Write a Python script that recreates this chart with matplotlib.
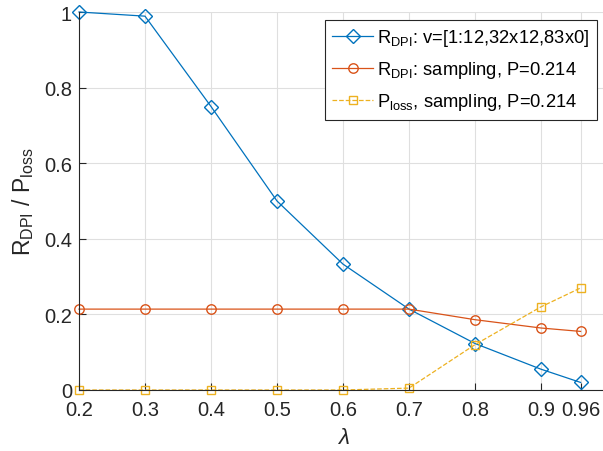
import matplotlib
matplotlib.use('Agg')
import matplotlib.pyplot as plt

plt.rcParams['font.family'] = ['Liberation Sans', 'DejaVu Sans']
plt.rcParams['mathtext.fontset'] = 'custom'
plt.rcParams['mathtext.rm'] = 'Liberation Sans'
plt.rcParams['mathtext.it'] = 'Liberation Sans:italic'

# data
lam = [0.2, 0.3, 0.4, 0.5, 0.6, 0.7, 0.8, 0.9, 0.96]
r_dpi_v = [1.0, 0.989, 0.75, 0.5, 0.333, 0.214, 0.123, 0.055, 0.02]
r_dpi_samp = [0.214, 0.214, 0.214, 0.214, 0.214, 0.214, 0.186, 0.164, 0.155]
p_loss_samp = [0.0, 0.0, 0.0, 0.0, 0.0, 0.005, 0.12, 0.22, 0.27]
xticks = [0.2, 0.3, 0.4, 0.5, 0.6, 0.7, 0.8, 0.9, 0.96]
xticklabels = ['0.2', '0.3', '0.4', '0.5', '0.6', '0.7', '0.8', '0.9', '0.96']
yticks = [0, 0.2, 0.4, 0.6, 0.8, 1]
yticklabels = ['0', '0.2', '0.4', '0.6', '0.8', '1']

blue = '#0072BD'
orange = '#D95319'
yellow = '#EDB120'

fig = plt.figure(figsize=(6.03, 4.52), dpi=100)
ax = fig.add_axes([79 / 603, 61 / 452, 528 / 603, 378 / 452])

ax.plot(lam, r_dpi_v, color=blue, lw=0.9, marker='D', ms=6.8, mfc='none', mec=blue, clip_on=False,
        label=r'R$_{\rm DPI}$: v=[1:12,32x12,83x0]')
ax.plot(lam, r_dpi_samp, color=orange, lw=0.9, marker='o', ms=6.8, mfc='none', mec=orange, clip_on=False,
        label=r'R$_{\rm DPI}$: sampling, P=0.214')
ax.plot(lam, p_loss_samp, color=yellow, lw=0.9, ls='--', marker='s', ms=5.8, mfc='none', mec=yellow, clip_on=False,
        label=r'P$_{\rm loss}$, sampling, P=0.214')

ax.set_xlim(0.2, 1.0)
ax.set_ylim(0, 1)
ax.set_xticks(xticks)
ax.set_xticklabels(xticklabels)
ax.set_yticks(yticks)
ax.set_yticklabels(yticklabels)
ax.tick_params(direction='in', length=5, labelsize=14.5, colors='#262626', width=0.8)
ax.tick_params(axis='x', pad=7)
ax.tick_params(axis='y', pad=5)
ax.grid(True, color='#dfdfdf', lw=0.8)
ax.set_axisbelow(True)
for s in ['top', 'right']:
    ax.spines[s].set_visible(False)
for s in ['left', 'bottom']:
    ax.spines[s].set_color('#262626')
    ax.spines[s].set_linewidth(0.8)

ax.set_xlabel(r'$\lambda$', fontsize=16, color='#262626', labelpad=6)
ax.set_ylabel(r'R$_{\rm DPI}$ / P$_{\rm loss}$', fontsize=16.5, color='#262626', labelpad=6)

leg = ax.legend(loc='upper right', bbox_to_anchor=(597 / 603, 1 - 21 / 452), bbox_transform=fig.transFigure,
                fontsize=13.2, fancybox=False, framealpha=1, edgecolor='#262626',
                handlelength=2.2, borderpad=0.4, labelspacing=0.6, handletextpad=0.25, borderaxespad=0)
leg.get_frame().set_linewidth(0.8)

fig.savefig('out.png', dpi=100)
